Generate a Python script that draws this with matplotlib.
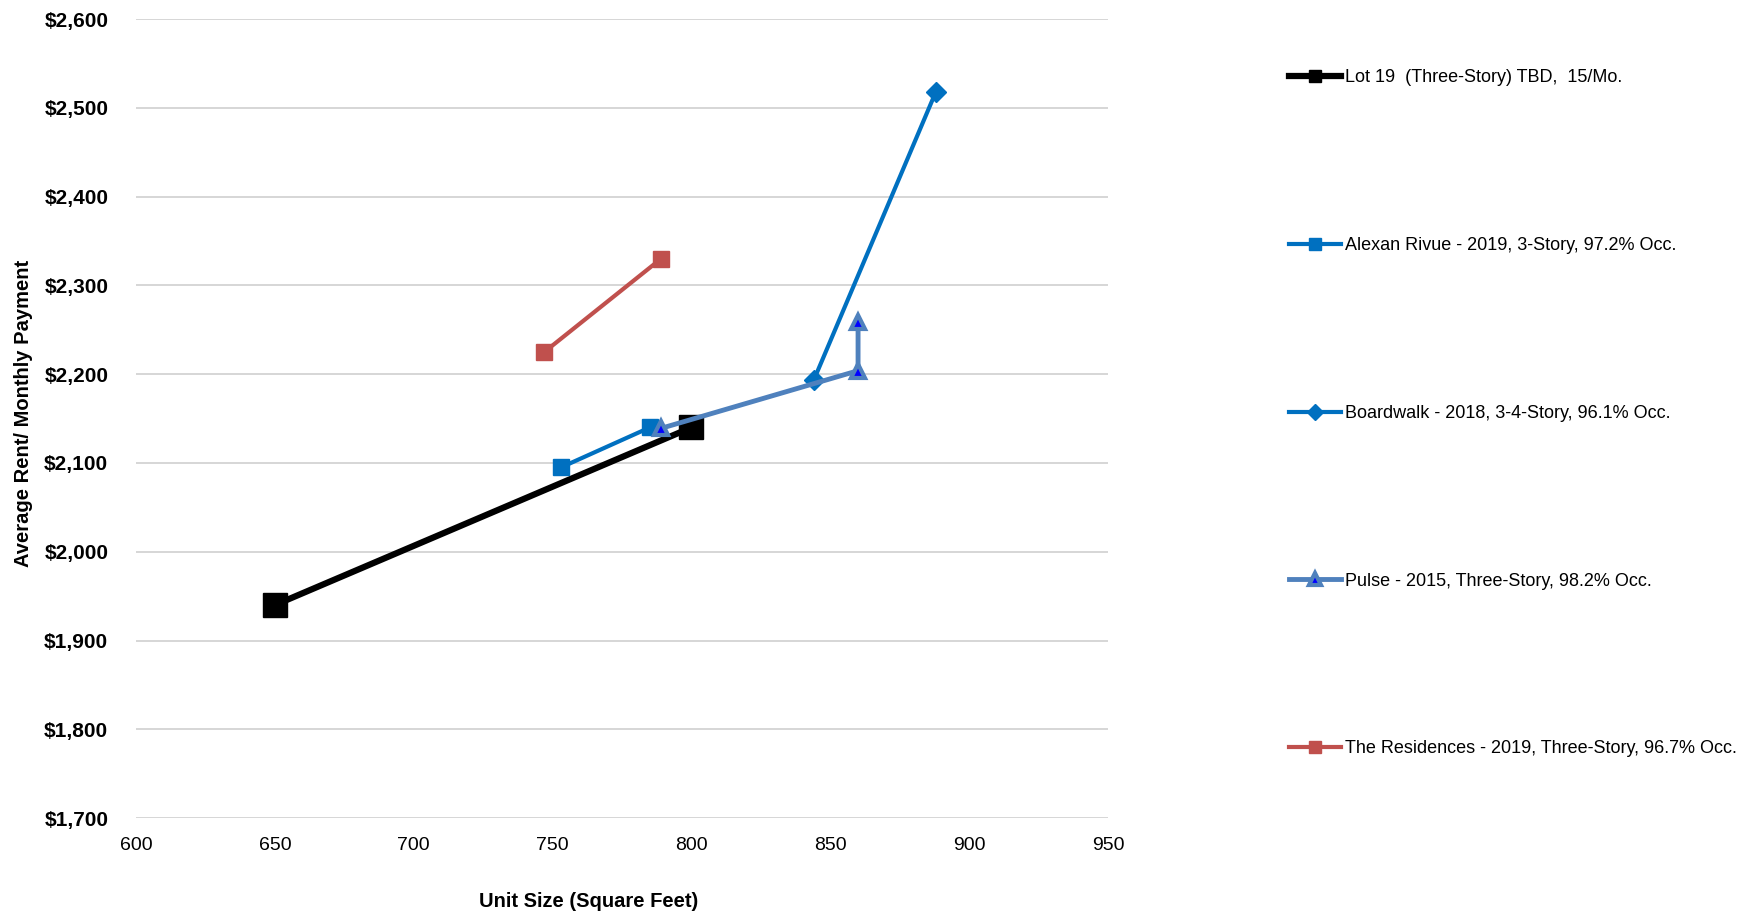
import matplotlib.pyplot as plt
from matplotlib.ticker import FuncFormatter, MultipleLocator

plt.rcParams['font.family'] = ['Liberation Sans Narrow', 'Liberation Sans', 'DejaVu Sans']

# unit size (sq ft) and average rent per property
lot19_size = [650, 800]
lot19_rent = [1940, 2140]

alexan_size = [753, 785]
alexan_rent = [2095, 2140]

boardwalk_size = [844, 888]
boardwalk_rent = [2193, 2518]

pulse_size = [789, 860, 860]
pulse_rent = [2139, 2204, 2259]

residences_size = [747, 789]
residences_rent = [2225, 2330]

labels = [
    'Lot 19  (Three-Story) TBD,  15/Mo.',
    'Alexan Rivue - 2019, 3-Story, 97.2% Occ.',
    'Boardwalk - 2018, 3-4-Story, 96.1% Occ.',
    'Pulse - 2015, Three-Story, 98.2% Occ.',
    'The Residences - 2019, Three-Story, 96.7% Occ.',
]

fig = plt.figure(figsize=(17.38, 9.13), dpi=100)
ax = fig.add_axes([0.0783, 0.104, 0.5592, 0.875])

ax.plot(lot19_size, lot19_rent, color='black', lw=4.5, marker='s', ms=17,
        label=labels[0], zorder=3)
ax.plot(alexan_size, alexan_rent, color='#0070c0', lw=3, marker='s', ms=11,
        label=labels[1], zorder=4)
ax.plot(boardwalk_size, boardwalk_rent, color='#0070c0', lw=3, marker='D', ms=10,
        label=labels[2], zorder=4)
ax.plot(pulse_size, pulse_rent, color='#4f81bd', lw=3.5, marker='^', ms=10,
        markerfacecolor='#0000ff', markeredgecolor='#4f81bd', markeredgewidth=3,
        label=labels[3], zorder=5)
ax.plot(residences_size, residences_rent, color='#c0504d', lw=3, marker='s', ms=11,
        label=labels[4], zorder=4)

ax.set_xlim(600, 950)
ax.set_ylim(1700, 2600)
ax.xaxis.set_major_locator(MultipleLocator(50))
ax.yaxis.set_major_locator(MultipleLocator(100))
ax.yaxis.set_major_formatter(FuncFormatter(lambda v, p: '${:,.0f}'.format(v)))

for s in ax.spines.values():
    s.set_visible(False)
ax.grid(axis='y', color='#d0d0d0', lw=1.2)
ax.set_axisbelow(True)
ax.tick_params(length=0)
ax.tick_params(axis='x', labelsize=14, pad=14)
ax.tick_params(axis='y', labelsize=15, pad=20)
for t in ax.get_yticklabels():
    t.set_fontweight('bold')

ax.set_xlabel('Unit Size (Square Feet)', fontsize=14.5, fontweight='bold')
ax.set_ylabel('Average Rent/ Monthly Payment', fontsize=14.5, fontweight='bold')
ax.xaxis.set_label_coords(0.466, -0.092)
ax.yaxis.set_label_coords(-0.106, 0.507)

leg = fig.legend(loc='upper left', bbox_to_anchor=(0.7417, 0.924), frameon=False,
                 fontsize=13, labelspacing=8.35, handlelength=2.9, handletextpad=0.2,
                 borderaxespad=0, borderpad=0)
# smaller markers in the legend keys
for h, ms in zip(leg.legend_handles, [9, 9, 8, 8, 9]):
    h.set_markersize(ms)

fig.savefig('out.png', dpi=100)
